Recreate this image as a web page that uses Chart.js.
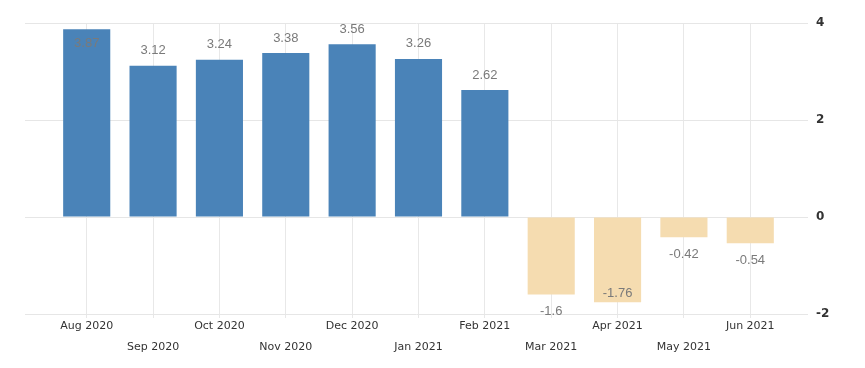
<!DOCTYPE html>
<html>
<head>
<meta charset="utf-8">
<script src="https://cdn.jsdelivr.net/npm/chart.js@4/dist/chart.umd.min.js"></script>
<style>
  html, body { margin: 0; padding: 0; background: #fff; }
  #wrap { width: 865px; height: 368px; }
</style>
</head>
<body>
<div id="wrap"><canvas id="chart"></canvas></div>
<script>
const months = ["Aug 2020", "Sep 2020", "Oct 2020", "Nov 2020", "Dec 2020", "Jan 2021",
                "Feb 2021", "Mar 2021", "Apr 2021", "May 2021", "Jun 2021"];
const values = [3.87, 3.12, 3.24, 3.38, 3.56, 3.26, 2.62, -1.6, -1.76, -0.42, -0.54];
const yTicks = [4, 2, 0, -2];

const BLUE = "#4a83b8";
const BEIGE = "#f5dcb0";

// value labels above/below bars, pushed inside when there is no room
const valueLabels = {
  id: "valueLabels",
  afterDatasetsDraw(chart) {
    const ctx = chart.ctx;
    const area = chart.chartArea;
    const meta = chart.getDatasetMeta(0);
    ctx.save();
    ctx.font = "13px 'Liberation Sans', Arial, sans-serif";
    ctx.fillStyle = "#7a7a7a";
    ctx.textAlign = "center";
    ctx.textBaseline = "middle";
    meta.data.forEach((bar, i) => {
      const v = values[i];
      let y;
      if (v >= 0) {
        y = bar.y - 15;
        if (y < area.top + 6) y = bar.y + 14;
      } else {
        y = bar.y + 17;
        if (y > area.bottom) y = bar.y - 9;
      }
      ctx.fillText(String(v), bar.x, y);
    });
    ctx.restore();
  }
};

new Chart(document.getElementById("chart"), {
  type: "bar",
  data: {
    datasets: [{
      data: values.map((v, i) => ({ x: i, y: v })),
      backgroundColor: values.map(v => v >= 0 ? BLUE : BEIGE),
      barPercentage: 0.71,
      categoryPercentage: 1
    }]
  },
  options: {
    responsive: true,
    maintainAspectRatio: false,
    animation: false,
    layout: { padding: { left: 25, top: 23, right: 0, bottom: 0 } },
    plugins: { legend: { display: false }, tooltip: { enabled: false } },
    scales: {
      x: {
        type: "linear",
        min: -0.93,
        max: 10.87,
        offset: false,
        afterBuildTicks: s => { s.ticks = months.map((_, i) => ({ value: i })); },
        afterFit: s => { s.height = 54; },
        grid: { color: "#e8e8e8", tickLength: 4, offset: false },
        border: { display: false },
        ticks: {
          autoSkip: false,
          maxRotation: 0,
          padding: -2,
          color: "#333",
          font: { family: "'DejaVu Sans', Verdana, sans-serif", size: 11, lineHeight: "21px" },
          callback: v => {
            const lbl = months[v];
            if (lbl === undefined) return "";
            return v % 2 === 0 ? [lbl, ""] : ["", lbl];
          }
        }
      },
      y: {
        position: "right",
        min: -2,
        max: 4,
        afterBuildTicks: s => { s.ticks = yTicks.map(v => ({ value: v })); },
        afterFit: s => { s.width = 57; },
        grid: { color: "#e6e6e6", drawTicks: false },
        border: { display: false },
        ticks: {
          padding: 8,
          color: "#333",
          font: { family: "'DejaVu Sans', Verdana, sans-serif", size: 12, weight: "bold" }
        }
      }
    }
  },
  plugins: [valueLabels]
});
</script>
</body>
</html>
